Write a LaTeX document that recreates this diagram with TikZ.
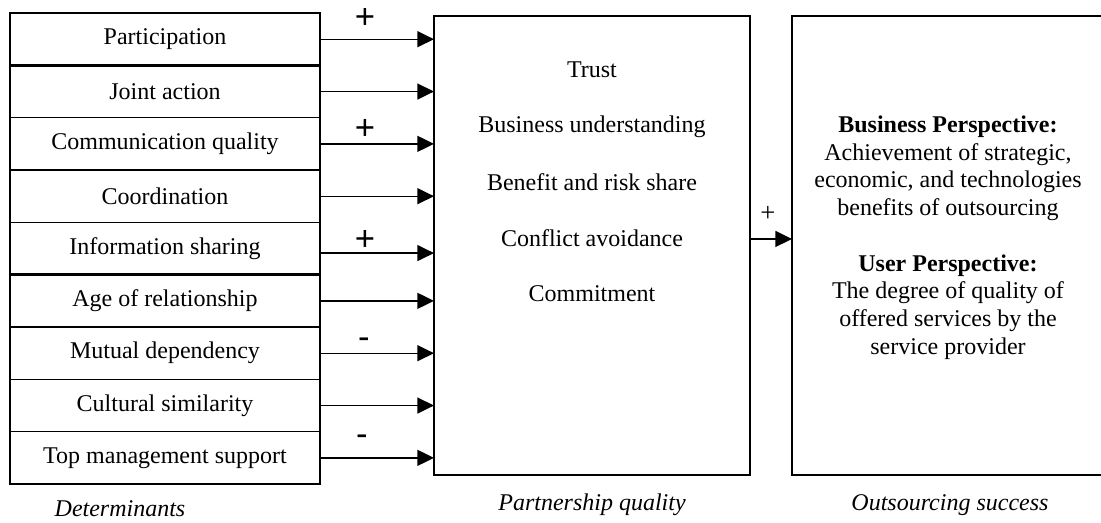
\documentclass[tikz,border=0pt]{standalone}
\usepackage{fontspec}
\setmainfont{Liberation Serif}
\setsansfont{Liberation Sans}
\usetikzlibrary{arrows.meta,positioning}

\tikzset{
  det/.style={draw, line width=1pt, minimum width=232.5pt, minimum height=39.25pt, inner sep=0pt, outer sep=0pt, font=\fontsize{18}{21}\selectfont},
  bigbox/.style={draw, line width=1pt, minimum height=344.25pt, inner sep=0pt, outer sep=0pt},
  item/.style={inner sep=0pt, font=\fontsize{18}{21}\selectfont},
  sign/.style={inner sep=0pt, font=\sffamily\fontsize{26}{26}\selectfont},
  arr/.style={line width=1pt, -{Triangle[length=12.5pt,width=12pt]}},
  caption/.style={inner sep=0pt, font=\itshape\fontsize{18}{21}\selectfont}
}

\begin{document}
\begin{tikzpicture}[x=0.75pt,y=-0.75pt]
\useasboundingbox (0,0) rectangle (1101,522);

%%%%% Determinants
\node[det] (part) at (165,39.2) {Participation};
\node[det, below=0pt of part] (joint) {Joint action};
\node[det, below=0pt of joint] (comm) {Communication quality};
\node[det, below=0pt of comm] (coord) {Coordination};
\node[det, below=0pt of coord] (info) {Information sharing};
\node[det, below=0pt of info] (age) {Age of relationship};
\node[det, below=0pt of age] (mutual) {Mutual dependency};
\node[det, below=0pt of mutual] (cult) {Cultural similarity};
\node[det, below=0pt of cult] (top) {Top management support};

\draw[line width=2pt] (part.south west) -- (part.south east);
\draw[line width=2pt] (info.south west) -- (info.south east);

%%%%% Partnership quality
\node[bigbox, minimum width=237pt] (pq) at (592,245.5) {};

\node[item] (trust) at (592,70) {Trust};
\node[item] (bu) at (592,127) {Business understanding};
\node[item] (brs) at (592,182) {Benefit and risk share};
\node[item] (ca) at (592,238) {Conflict avoidance};
\node[item] (commit) at (592,294) {Commitment};

%%%%% Outsourcing success
\node[bigbox, minimum width=234pt] (os) at (948,245.5) {};

\node[item, align=center, font=\fontsize{18}{20.8}\selectfont] (persp) at (948,237.5) {\textbf{Business Perspective:}\\ Achievement of strategic,\\ economic, and technologies\\ benefits of outsourcing\\[20.8pt] \textbf{User Perspective:}\\ The degree of quality of\\ offered services by the\\ service provider};

%%%%% Arrows
\draw[arr] (part.east) -- (part.east -| pq.west); \draw[arr] (joint.east) -- (joint.east -| pq.west); \draw[arr] (comm.east) -- (comm.east -| pq.west);
\draw[arr] (coord.east) -- (coord.east -| pq.west); \draw[arr] ([yshift=-3.4pt]info.east) -- ([yshift=-3.4pt]info.east -| pq.west); \draw[arr] (age.east) -- (age.east -| pq.west);
\draw[arr] (mutual.east) -- (mutual.east -| pq.west); \draw[arr] (cult.east) -- (cult.east -| pq.west); \draw[arr] (top.east) -- (top.east -| pq.west);

\draw[arr] ([yshift=4.9pt]pq.east) -- ([yshift=4.9pt]os.west);

%%%%% Signs
\node[sign] (s1) at (365,18) {+}; \node[sign] (s2) at (365,129) {+}; \node[sign] (s3) at (365,240) {+};
\node[sign] (s4) at (364,343) {-}; \node[sign] (s5) at (362,440) {-};
\node[inner sep=0pt, font=\fontsize{20}{20}\selectfont] (s6) at (768,214) {+};

%%%%% Captions
\node[caption] (detcap) at (120,509) {Determinants};
\node[caption] (pqcap) at (592,505) {Partnership quality};
\node[caption] (oscap) at (950,505) {Outsourcing success};

\end{tikzpicture}
\end{document}
